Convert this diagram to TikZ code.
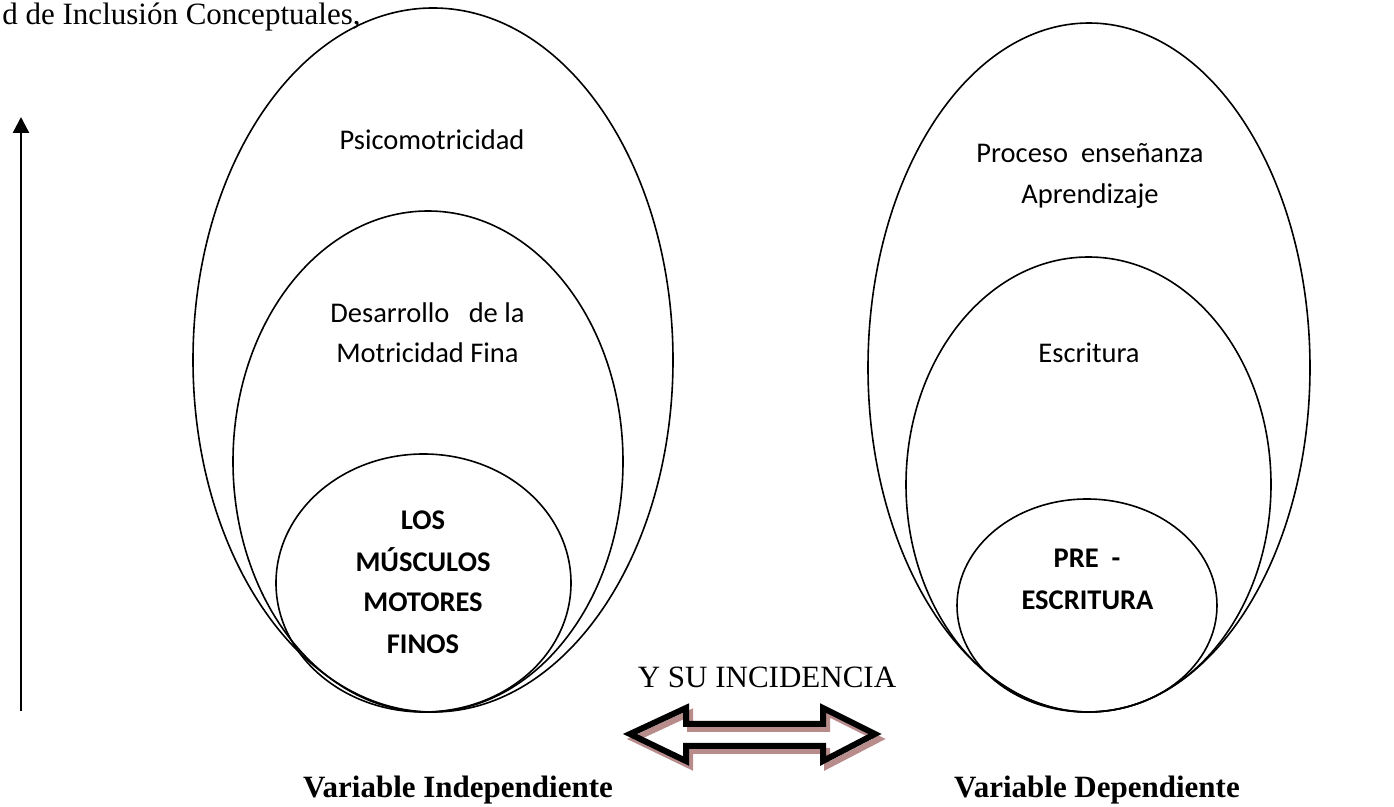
\documentclass[tikz,border=0pt]{standalone}
\usepackage{fontspec}
\setmainfont{Liberation Serif}
\setsansfont{Carlito}
\usetikzlibrary{arrows.meta}
\begin{document}
\begin{tikzpicture}[x=0.5pt,y=-0.5pt,
  ring/.style={draw=black,line width=0.8pt},
  serif/.style={font=\fontsize{15.5pt}{18pt}\selectfont,inner sep=0pt,anchor=base},
  serifb/.style={font=\bfseries\fontsize{15.5pt}{18pt}\selectfont,inner sep=0pt,anchor=base},
  calib/.style={font=\sffamily\fontsize{14.25pt}{17pt}\selectfont,inner sep=0pt,anchor=base},
  calibb/.style={font=\sffamily\bfseries\fontsize{14.25pt}{17pt}\selectfont,inner sep=0pt,anchor=base},
  blockarrow/.style={draw=black,line width=3pt,line join=miter},
  blockshadow/.style={draw=shadowcol,line width=3pt,line join=miter}]
\definecolor{shadowcol}{RGB}{185,140,140}
\useasboundingbox (0,0) rectangle (1394,807);
\fill[white] (0,0) rectangle (1394,807);

% left ellipses
\draw[ring] (433,360) ellipse [x radius=120pt, y radius=176pt];
\draw[ring] (428,461.5) ellipse [x radius=97.5pt, y radius=125.25pt];
\draw[ring] (423.5,583) ellipse [x radius=73.75pt, y radius=64.5pt];
% right ellipses
\draw[ring] (1089,367.5) ellipse [x radius=110.5pt, y radius=172.25pt];
\draw[ring] (1088.5,484.5) ellipse [x radius=91.25pt, y radius=113.75pt];
\draw[ring] (1087,605.5) ellipse [x radius=65pt, y radius=53.25pt];

% top text
\node[serif,anchor=base west] (title) at (2,25) {d de Inclusión Conceptuales,};

% left texts
\node[calib] (psi) at (432,150) {Psicomotricidad};
\node[calib] (des1) at (427.5,323) {Desarrollo\ \ \ de la};
\node[calib] (des2) at (427.5,363) {Motricidad Fina};
\node[calibb] (los1) at (423,530) {LOS};
\node[calibb] (los2) at (423,572) {MÚSCULOS};
\node[calibb] (los3) at (423,612) {MOTORES};
\node[calibb] (los4) at (423,654) {FINOS};

% right texts
\node[calib] (pro1) at (1090,163) {Proceso\ \ enseñanza};
\node[calib] (pro2) at (1090,204) {Aprendizaje};
\node[calib] (esc) at (1089,363) {Escritura};
\node[calibb] (pre1) at (1087,568) {PRE\ \ -};
\node[calibb] (pre2) at (1087.5,610) {ESCRITURA};

% middle and bottom texts
\node[serif] (inc) at (767,688) {Y SU INCIDENCIA};
\node[serifb] (vind) at (458,798) {Variable Independiente};
\node[serifb] (vdep) at (1097,798) {Variable Dependiente};

% vertical arrow
\coordinate (vb) at (21,711);
\coordinate (vt) at (21,117);
\draw[line width=1.2pt,-{Triangle[width=8pt,length=8pt]}] (vb) -- (vt);

% double block arrow: shadow then outline
\draw[blockshadow,shift={(4,5)}] (630,734) -- (686,708) -- (686,724) -- (823,724) -- (823,708) -- (875,734) -- (823,761) -- (823,746) -- (686,746) -- (686,761) -- cycle;
\draw[blockarrow] (630,734) -- (686,708) -- (686,724) -- (823,724) -- (823,708) -- (875,734) -- (823,761) -- (823,746) -- (686,746) -- (686,761) -- cycle;
\end{tikzpicture}
\end{document}
